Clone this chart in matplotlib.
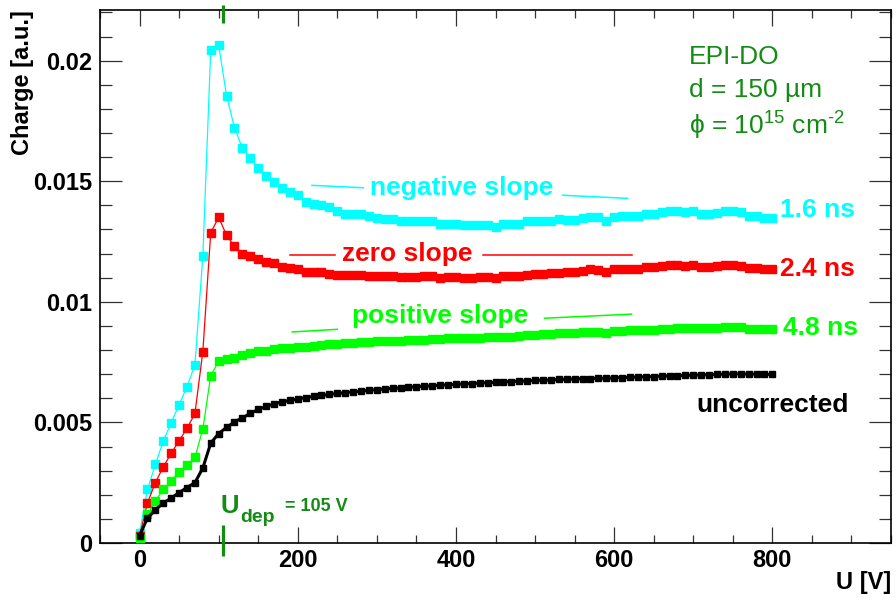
import numpy as np
import matplotlib
matplotlib.use("Agg")
import matplotlib.pyplot as plt
from matplotlib.ticker import MultipleLocator, FuncFormatter
import matplotlib.transforms as mtransforms

plt.rcParams['font.family'] = ['Liberation Sans', 'DejaVu Sans']
plt.rcParams['mathtext.fontset'] = 'custom'
plt.rcParams['mathtext.rm'] = 'Liberation Sans'
plt.rcParams['mathtext.it'] = 'Liberation Sans:italic'
plt.rcParams['mathtext.bf'] = 'Liberation Sans:bold'

# Bias voltage [V]
voltage = np.arange(0, 801, 10)

# Collected charge, 1.6 ns integration window
charge_16ns = [
    0.0004, 0.00222, 0.00326, 0.00423, 0.00498, 0.00574, 0.00648, 0.00739, 0.01189, 0.02046,
    0.02064, 0.01855, 0.01722, 0.01638, 0.01596, 0.01556, 0.01522, 0.01497, 0.01472, 0.01455,
    0.01442, 0.01414, 0.01407, 0.01400, 0.01393, 0.01377, 0.01366, 0.01366, 0.01366, 0.01357,
    0.01348, 0.01345, 0.01342, 0.01334, 0.01334, 0.01334, 0.01337, 0.01334, 0.01321, 0.01321,
    0.01321, 0.01319, 0.01319, 0.01319, 0.01319, 0.01310, 0.01324, 0.01324, 0.01324, 0.01334,
    0.01334, 0.01334, 0.01334, 0.01345, 0.01338, 0.01338, 0.01348, 0.01352, 0.01352, 0.01334,
    0.01352, 0.01355, 0.01355, 0.01357, 0.01363, 0.01366, 0.01371, 0.01378, 0.01375, 0.01371,
    0.01378, 0.01366, 0.01366, 0.01370, 0.01378, 0.01375, 0.01371, 0.01357, 0.01357, 0.01348,
    0.01348,
]

# Collected charge, 2.4 ns integration window
charge_24ns = [
    0.0003, 0.00167, 0.00250, 0.00316, 0.00372, 0.00424, 0.00475, 0.00537, 0.00793, 0.01287,
    0.01350, 0.01276, 0.01230, 0.01200, 0.01190, 0.01176, 0.01165, 0.01161, 0.01146, 0.01141,
    0.01138, 0.01123, 0.01123, 0.01123, 0.01117, 0.01113, 0.01113, 0.01113, 0.01113, 0.01109,
    0.01109, 0.01109, 0.01109, 0.01102, 0.01102, 0.01102, 0.01106, 0.01106, 0.01099, 0.01102,
    0.01102, 0.01099, 0.01099, 0.01102, 0.01102, 0.01099, 0.01109, 0.01109, 0.01109, 0.01113,
    0.01116, 0.01116, 0.01120, 0.01120, 0.01123, 0.01122, 0.01128, 0.01136, 0.01134, 0.01123,
    0.01136, 0.01138, 0.01138, 0.01138, 0.01145, 0.01145, 0.01150, 0.01154, 0.01154, 0.01150,
    0.01154, 0.01145, 0.01145, 0.01147, 0.01154, 0.01154, 0.01150, 0.01142, 0.01142, 0.01138,
    0.01138,
]

# Collected charge, 4.8 ns integration window
charge_48ns = [
    0.0002, 0.00119, 0.00174, 0.00222, 0.00257, 0.00295, 0.00323, 0.00355, 0.00472, 0.00694,
    0.00754, 0.00761, 0.00768, 0.00778, 0.00787, 0.00795, 0.00795, 0.00804, 0.00807, 0.00810,
    0.00813, 0.00813, 0.00817, 0.00820, 0.00824, 0.00827, 0.00830, 0.00830, 0.00833, 0.00834,
    0.00837, 0.00837, 0.00838, 0.00838, 0.00840, 0.00840, 0.00841, 0.00844, 0.00846, 0.00848,
    0.00848, 0.00850, 0.00851, 0.00851, 0.00853, 0.00853, 0.00855, 0.00855, 0.00858, 0.00861,
    0.00862, 0.00865, 0.00868, 0.00869, 0.00871, 0.00872, 0.00874, 0.00875, 0.00875, 0.00871,
    0.00881, 0.00881, 0.00882, 0.00882, 0.00885, 0.00885, 0.00888, 0.00888, 0.00892, 0.00892,
    0.00893, 0.00892, 0.00892, 0.00893, 0.00896, 0.00896, 0.00896, 0.00889, 0.00889, 0.00889,
    0.00889,
]

# Uncorrected collected charge
charge_raw = [
    0.0003, 0.00104, 0.00137, 0.00166, 0.00186, 0.00209, 0.00230, 0.00250, 0.00311, 0.00414,
    0.00454, 0.00479, 0.00502, 0.00519, 0.00537, 0.00554, 0.00566, 0.00577, 0.00585, 0.00591,
    0.00597, 0.00603, 0.00608, 0.00612, 0.00616, 0.00620, 0.00623, 0.00627, 0.00630, 0.00633,
    0.00636, 0.00639, 0.00641, 0.00643, 0.00646, 0.00648, 0.00650, 0.00652, 0.00654, 0.00656,
    0.00658, 0.00660, 0.00661, 0.00663, 0.00665, 0.00666, 0.00668, 0.00669, 0.00671, 0.00672,
    0.00674, 0.00675, 0.00676, 0.00678, 0.00679, 0.00680, 0.00681, 0.00682, 0.00683, 0.00683,
    0.00685, 0.00686, 0.00687, 0.00688, 0.00689, 0.00690, 0.00692, 0.00693, 0.00694, 0.00695,
    0.00696, 0.00697, 0.00698, 0.00699, 0.00700, 0.00701, 0.00701, 0.00700, 0.00700, 0.00699,
    0.00699,
]

# Slope guide segments: (V0, V1), (Q0, Q1) for left and right pieces
neg_left_v, neg_left_q = [218, 283], [0.01483, 0.01473]
neg_right_v, neg_right_q = [535, 617], [0.01442, 0.01429]
zero_left_v, zero_left_q = [190, 247], [0.01193, 0.01193]
zero_right_v, zero_right_q = [434, 622], [0.01195, 0.01195]
pos_left_v, pos_left_q = [193, 250], [0.00875, 0.00886]
pos_right_v, pos_right_q = [512, 622], [0.00932, 0.00949]

u_dep = 105

CYAN = '#00ffff'
RED = '#ff0000'
GREEN = '#00ff00'
DKGREEN = '#148c14'

W, H = 896, 603
fig = plt.figure(figsize=(W / 100, H / 100), dpi=100)
ax = fig.add_axes([100 / W, (H - 543) / H, (891 - 100) / W, (543 - 10) / H])

# Curves
ax.plot(voltage, charge_16ns, '-', color=CYAN, lw=0.9, marker='s', ms=5.4,
        mec=CYAN, mfc=CYAN, zorder=3)
ax.plot(voltage, charge_24ns, '-', color=RED, lw=0.9, marker='s', ms=5.4,
        mec=RED, mfc=RED, zorder=3)
ax.plot(voltage, charge_48ns, '-', color=GREEN, lw=0.9, marker='s', ms=5.4,
        mec=GREEN, mfc=GREEN, zorder=3)
ax.plot(voltage, charge_raw, '-', color='black', lw=2.2, marker='s', ms=4.2,
        mec='black', mfc='black', zorder=4)

# Slope guides
for (vv, qq, c) in [(neg_left_v, neg_left_q, CYAN), (neg_right_v, neg_right_q, CYAN),
                    (zero_left_v, zero_left_q, RED), (zero_right_v, zero_right_q, RED),
                    (pos_left_v, pos_left_q, GREEN), (pos_right_v, pos_right_q, GREEN)]:
    ax.plot(vv, qq, '-', color=c, lw=1.1, zorder=2)

ax.set_xlim(-50, 950)
ax.set_ylim(0, 0.0221)

# Axis ticks on all four sides, pointing inward
ax.xaxis.set_major_locator(MultipleLocator(200))
ax.xaxis.set_minor_locator(MultipleLocator(50))
ax.yaxis.set_major_locator(MultipleLocator(0.005))
ax.yaxis.set_minor_locator(MultipleLocator(0.001))
ax.yaxis.set_major_formatter(FuncFormatter(lambda v, p: '%g' % round(v, 4)))
ax.tick_params(axis='both', which='both', direction='in', top=True, right=True,
               width=0.9, colors='#333333', labelcolor='black')
ax.tick_params(axis='x', which='major', length=11.5, pad=4.5)
ax.tick_params(axis='x', which='minor', length=6)
ax.tick_params(axis='y', which='major', length=16, pad=5.5)
ax.tick_params(axis='y', which='minor', length=8.3)
for lab in ax.get_xticklabels() + ax.get_yticklabels():
    lab.set_fontsize(17)
    lab.set_fontweight('bold')
for s in ax.spines.values():
    s.set_linewidth(1.2)

# Axis titles
fig.text(891 / W, 1 - 582 / H, 'U [V]', fontsize=17, fontweight='bold',
         ha='right', va='center')
fig.text(23 / W, 1 - 10 / H, 'Charge [a.u.]', fontsize=17, fontweight='bold',
         rotation=90, ha='center', va='top')

# Depletion voltage markers crossing the frame
trans = mtransforms.blended_transform_factory(ax.transData, ax.transAxes)
ax.plot([u_dep, u_dep], [0.9756, 1.0094], color=DKGREEN, lw=2.3, transform=trans,
        clip_on=False, solid_capstyle='butt', zorder=5)
ax.plot([u_dep, u_dep], [-0.0244, 0.0338], color=DKGREEN, lw=2.3, transform=trans,
        clip_on=False, solid_capstyle='butt', zorder=5)

ax.text(102, 0.00124, 'U', color=DKGREEN, fontsize=18.5, fontweight='bold', va='baseline')
ax.text(127.5, 0.00087, 'dep', color=DKGREEN, fontsize=14, fontweight='bold', va='baseline')
ax.text(184, 0.00133, '= 105 V', color=DKGREEN, fontsize=13, fontweight='bold', va='baseline')

# Sample description
ax.text(695, 0.01988, 'EPI-DO', color=DKGREEN, fontsize=19, va='baseline')
ax.text(695, 0.01848, 'd = 150 µm', color=DKGREEN, fontsize=19, va='baseline')
ax.text(695, 0.01694, 'ϕ = 10$^{15}$ cm$^{‐2}$', color=DKGREEN, fontsize=19, va='baseline')

# Curve labels
ax.text(291.5, 0.01444, 'negative slope', color=CYAN, fontsize=19, fontweight='bold', va='baseline')
ax.text(256, 0.01168, 'zero slope', color=RED, fontsize=19, fontweight='bold', va='baseline')
ax.text(269, 0.00913, 'positive slope', color=GREEN, fontsize=19, fontweight='bold', va='baseline')
ax.text(810, 0.01352, '1.6 ns', color=CYAN, fontsize=19, fontweight='bold', va='baseline')
ax.text(810, 0.01106, '2.4 ns', color=RED, fontsize=19, fontweight='bold', va='baseline')
ax.text(814, 0.00862, '4.8 ns', color=GREEN, fontsize=19, fontweight='bold', va='baseline')
ax.text(704, 0.00543, 'uncorrected', color='black', fontsize=19, fontweight='bold', va='baseline')

fig.savefig('out.png', dpi=100)
